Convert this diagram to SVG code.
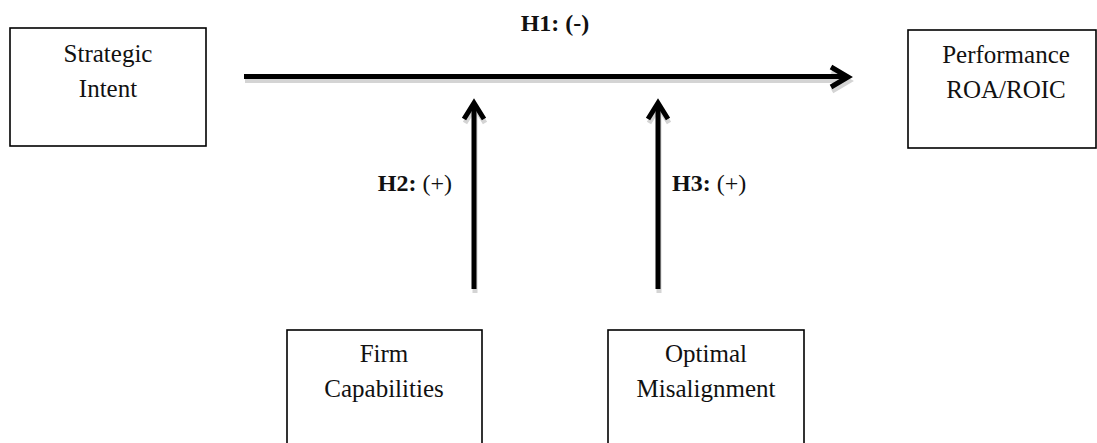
<svg xmlns="http://www.w3.org/2000/svg" width="1097" height="443" viewBox="0 0 1097 443">
<style>
.box{fill:#fff;stroke:#000;stroke-width:1.6}
.t{font-family:"Liberation Serif","Times New Roman",serif;font-size:25px;fill:#111;text-anchor:middle}
.lbl{font-family:"Liberation Serif","Times New Roman",serif;font-size:24px;fill:#111}
.b{font-weight:bold}
.ln{fill:none;stroke:#000;stroke-width:5}
.sh{fill:none;stroke:#d4d4d4;stroke-width:5}
</style>
<rect width="1097" height="443" fill="#fff"/>
<g id="connectors">
<g class="sh" transform="translate(1,4)">
<path d="M244 76.5H846"/><path d="M831 67l17 10-17 10"/>
<path d="M474 289V104"/><path d="M464 119l10-16 10 16"/>
<path d="M658 289V104"/><path d="M648 119l10-16 10 16"/>
</g>
<g class="ln">
<path d="M244 76.5H846"/><path d="M831 67l17 10-17 10"/>
<path d="M474 289V104"/><path d="M464 119l10-16 10 16"/>
<path d="M658 289V104"/><path d="M648 119l10-16 10 16"/>
</g>
</g>
<g id="strategic-intent">
<rect class="box" x="10" y="28" width="196" height="118"/>
<text class="t" x="108" y="62">Strategic</text>
<text class="t" x="108" y="97">Intent</text>
</g>
<g id="performance">
<rect class="box" x="908" y="30" width="188" height="118"/>
<text class="t" x="1006" y="63">Performance</text>
<text class="t" x="1006" y="98">ROA/ROIC</text>
</g>
<g id="firm-capabilities">
<rect class="box" x="287" y="330" width="195" height="120"/>
<text class="t" x="384" y="362">Firm</text>
<text class="t" x="384" y="397">Capabilities</text>
</g>
<g id="optimal-misalignment">
<rect class="box" x="608" y="330" width="196" height="120"/>
<text class="t" x="706" y="362">Optimal</text>
<text class="t" x="706" y="397">Misalignment</text>
</g>
<g id="labels">
<text class="lbl b" x="555" y="31" text-anchor="middle">H1: (-)</text>
<text class="lbl" x="452" y="191" text-anchor="end"><tspan class="b">H2:</tspan> (+)</text>
<text class="lbl" x="672" y="191"><tspan class="b">H3:</tspan> (+)</text>
</g>
</svg>
